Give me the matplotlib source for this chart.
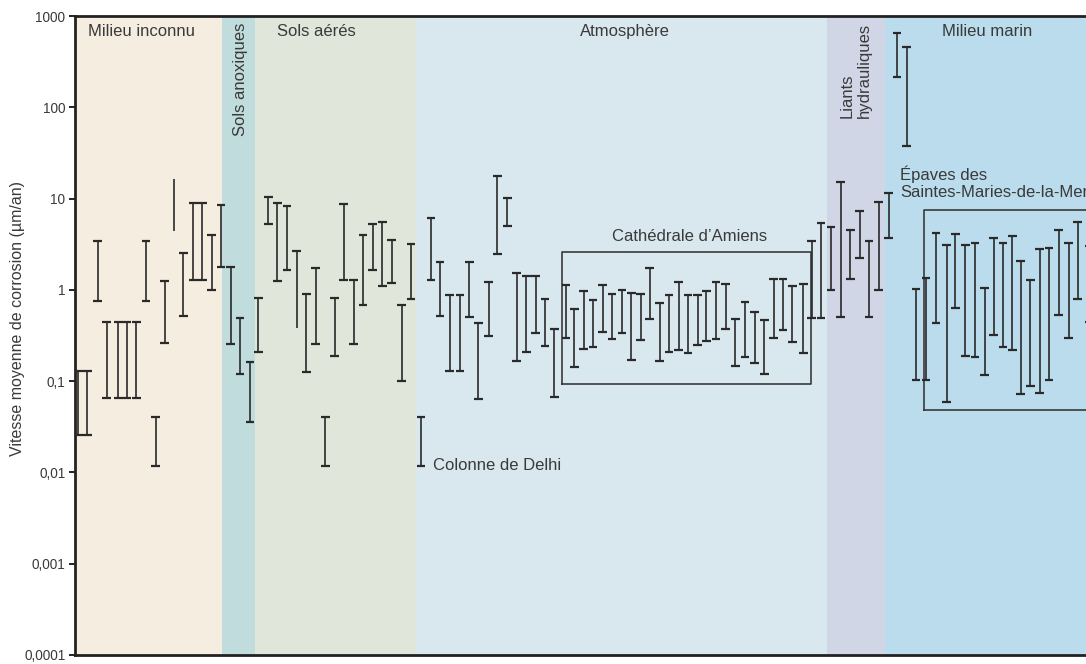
import matplotlib
matplotlib.use("Agg")
import matplotlib.pyplot as plt
from matplotlib.transforms import blended_transform_factory

plt.rcParams['font.family'] = ['Liberation Sans', 'DejaVu Sans']

# ---------------- data ----------------
# horizontal position of each measurement (arbitrary sample axis units)
pos = [3.3, 12.3, 22.7, 31.7, 43, 51.7, 61.3, 71, 80.7, 89.7, 99, 108.3, 118.3, 127.3,
       136.7, 146,
       155.7, 165, 175,
       183.3, 193.3, 202.3, 212, 221.7, 231.3, 240.7, 250.3, 259.7, 268.7, 278.7, 288,
       297.7, 307.3, 316.7, 326.7, 336,
       346, 356, 365, 374.7, 385, 394.3, 403.3, 413.7, 422.3, 432.3, 441.7, 451.3, 460.7,
       470, 479.3,
       491, 499.3, 508.7, 518, 527.7, 537, 547, 556.3, 565.7, 574.7, 584.7, 594, 603.7,
       613, 622.7, 631.3, 641, 650.7, 660.3, 670, 679.7, 689.3, 698.7, 708, 717.3, 728.3,
       736.7, 746,
       756, 765.7, 775.3, 784.7, 794, 803.7,
       813.7, 822, 831.7, 841, 851, 861, 871.7, 880.3, 890.3, 900, 909.7, 918.7, 928,
       937.3, 945.7, 955.3, 964.7, 974, 983.7, 993.7, 1002.7, 1014]
low = [0.026, 0.026, 0.76, 0.065, 0.065, 0.065, 0.065, 0.76, 0.0118, 0.26, 4.4, 0.52, 1.28, 1.28,
       1.0, 1.77,
       0.255, 0.12, 0.0355,
       0.209, 5.2, 1.26, 1.65, 0.38, 0.127, 0.255, 0.0118, 0.19, 1.28, 0.255, 0.69,
       1.65, 1.1, 1.19, 0.1, 0.79,
       0.0118, 1.27, 0.52, 0.128, 0.128, 0.51, 0.064, 0.315, 2.5, 5.05, 0.168, 0.207, 0.337,
       0.245, 0.067,
       0.30, 0.144, 0.223, 0.235, 0.343, 0.29, 0.34, 0.17, 0.283, 0.48, 0.168, 0.209, 0.218,
       0.204, 0.249, 0.273, 0.292, 0.37, 0.148, 0.183, 0.16, 0.119, 0.30, 0.364, 0.269, 0.204,
       0.489, 0.489,
       1.0, 0.51, 1.31, 2.25, 0.51, 1.0,
       3.73, 216, 38, 0.103, 0.103, 0.437, 0.059, 0.634, 0.189, 0.184, 0.117, 0.323, 0.237,
       0.22, 0.072, 0.0886, 0.074, 0.103, 0.53, 0.30, 0.795, 0.45]
high = [0.128, 0.128, 3.4, 0.44, 0.44, 0.44, 0.44, 3.4, 0.04, 1.26, 16.3, 2.55, 8.95, 8.95,
        4.0, 8.4,
        1.77, 0.49, 0.164,
        0.815, 10.3, 8.9, 8.3, 2.65, 0.895, 1.74, 0.04, 0.815, 8.7, 1.28, 3.96,
        5.3, 5.5, 3.5, 0.68, 3.18,
        0.04, 6.2, 2.02, 0.885, 0.885, 2.0, 0.434, 1.21, 17.7, 10.1, 1.52, 1.43, 1.43,
        0.79, 0.37,
        1.13, 0.61, 0.96, 0.77, 1.13, 0.90, 0.99, 0.93, 0.90, 1.74, 0.72, 0.87, 1.22,
        0.87, 0.87, 0.96, 1.21, 1.15, 0.476, 0.736, 0.573, 0.468, 1.32, 1.32, 1.09, 1.15,
        3.46, 5.4,
        4.9, 15.3, 4.5, 7.4, 3.46, 9.1,
        11.6, 646, 461, 1.02, 1.36, 4.2, 3.1, 4.07, 3.1, 3.26, 1.05, 3.67, 3.24,
        3.93, 2.07, 1.29, 2.83, 2.9, 4.53, 3.24, 5.58, 3.03]
# caps drawn: 'b' both ends, 't' top only, 'n' none
caps = ['b'] * len(pos)
caps[10] = 'n'
caps[23] = 't'

# environments (start, end on the sample axis) and labels
env_names = ['Milieu inconnu', 'Sols anoxiques', 'Sols aérés', 'Atmosphère',
             'Liants\nhydrauliques', 'Milieu marin']
env_start = [0, 147, 180, 341, 751.7, 810]
env_end = [147, 180, 341, 751.7, 810, 1030]
env_colors = ['#f6ede1', '#c0dcdc', '#e0e6da', '#d9e7ef', '#d0d6e6', '#badcec']

yticks = [1e-4, 1e-3, 1e-2, 1e-1, 1, 10, 100, 1000]
yticklabels = ['0,0001', '0,001', '0,01', '0,1', '1', '10', '100', '1000']

# highlighted groups: (x0, x1, y_low, y_high)
cathedral_box = (487, 735.7, 0.093, 2.6)
epaves_box = (849, 1040, 0.0484, 7.5)

# ---------------- figure ----------------
W, H = 1086, 664
fig = plt.figure(figsize=(W / 100, H / 100), dpi=100)
ax = fig.add_axes([75 / W, 9 / H, (1100 - 75) / W, 639 / H])
ax.set_yscale('log')
ax.set_xlim(0, 1025)
ax.set_ylim(1e-4, 1e3)

txt = '#3a3a3a'
ink = '#2a2a2a'

for s, e, c in zip(env_start, env_end, env_colors):
    ax.axvspan(s, e, color=c, lw=0, zorder=0)

hw = 4.3
for x, lo, hi, cp in zip(pos, low, high, caps):
    ax.vlines(x, lo, hi, color=ink, lw=1.2, zorder=3)
    if cp in ('b', 't'):
        ax.hlines(hi, x - hw, x + hw, color=ink, lw=1.6, zorder=3)
    if cp == 'b':
        ax.hlines(lo, x - hw, x + hw, color=ink, lw=1.6, zorder=3)

for (x0, x1, y0, y1) in (cathedral_box, epaves_box):
    ax.plot([x0, x0, x1, x1, x0], [y0, y1, y1, y0, y0], color='#3a3a3a', lw=1.2, zorder=2)

# spines / ticks
for side in ('left', 'top', 'bottom'):
    ax.spines[side].set_linewidth(2.0)
    ax.spines[side].set_color('#222222')
ax.spines['right'].set_visible(False)
ax.set_xticks([])
ax.set_yticks(yticks)
ax.set_yticklabels(yticklabels)
ax.minorticks_off()
ax.tick_params(axis='y', which='major', direction='out', length=4, width=1.4,
               color='#222222', labelsize=9.8, labelcolor=txt, pad=3)

tr = blended_transform_factory(ax.transData, ax.transAxes)
fs = 12
ax.text(67, 0.9765, env_names[0], transform=tr, ha='center', va='center', fontsize=fs, color=txt)
ax.text(165, 0.989, env_names[1], transform=tr, ha='center', va='top', rotation=90,
        fontsize=fs, color=txt)
ax.text(241, 0.9765, env_names[2], transform=tr, ha='center', va='center', fontsize=fs, color=txt)
ax.text(550, 0.9765, env_names[3], transform=tr, ha='center', va='center', fontsize=fs, color=txt)
ax.text(781, 0.989, env_names[4], transform=tr, ha='center', va='top', rotation=90,
        multialignment='left', fontsize=fs, color=txt, linespacing=1.15)
ax.text(912, 0.9765, env_names[5], transform=tr, ha='center', va='center', fontsize=fs, color=txt)

ax.text(615, 0.6557, 'Cathédrale d\u2019Amiens', transform=tr, ha='center', va='center',
        fontsize=fs, color=txt)
ax.text(358, 0.2958, 'Colonne de Delhi', transform=tr, ha='left', va='center',
        fontsize=fs, color=txt)
ax.text(825, 0.766, 'Épaves des\nSaintes-Maries-de-la-Mer', transform=tr, ha='left', va='top',
        fontsize=fs, color=txt, linespacing=1.2)

fig.text(18 / W, 1 - 318 / H, 'Vitesse moyenne de corrosion (µm/an)', rotation=90,
         ha='center', va='center', fontsize=11.5, color=txt)

fig.savefig('out.png', dpi=100)
